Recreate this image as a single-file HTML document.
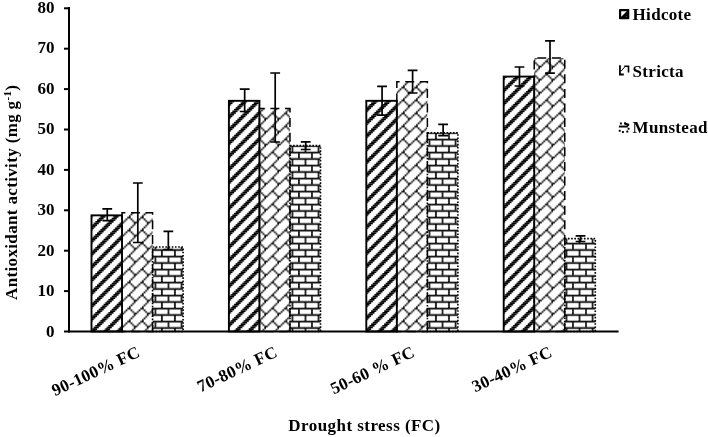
<!DOCTYPE html>
<html><head><meta charset="utf-8"><title>Antioxidant activity</title>
<style>
html,body{margin:0;padding:0;background:#fff;}
svg{display:block;filter:blur(0.35px);}
text{font-family:"Liberation Serif","Times New Roman",serif;font-weight:bold;fill:#000;}
</style></head><body>
<svg width="708" height="437" viewBox="0 0 708 437">
<defs>
<pattern id="pw" patternUnits="userSpaceOnUse" width="13.0500" height="13.0000" patternTransform="translate(5.750,0.000)">
<rect width="13.0500" height="13.0000" fill="#fff"/>
<g fill="#000">
<rect x="-0.050" y="-0.050" width="3.363" height="1.725"/>
<rect x="11.369" y="-0.050" width="1.731" height="1.725"/>
<rect x="-0.050" y="1.575" width="1.731" height="1.725"/>
<rect x="9.738" y="1.575" width="3.363" height="1.725"/>
<rect x="8.106" y="3.200" width="4.994" height="1.725"/>
<rect x="6.475" y="4.825" width="4.994" height="1.725"/>
<rect x="4.844" y="6.450" width="4.994" height="1.725"/>
<rect x="3.213" y="8.075" width="4.994" height="1.725"/>
<rect x="1.581" y="9.700" width="4.994" height="1.725"/>
<rect x="-0.050" y="11.325" width="4.994" height="1.725"/>
</g></pattern>
<pattern id="pd" patternUnits="userSpaceOnUse" width="13.0500" height="13.0000" patternTransform="translate(5.000,2.400)">
<rect width="13.0500" height="13.0000" fill="#fff"/>
<g fill="#000">
<rect x="11.369" y="-0.050" width="1.731" height="1.725"/>
<rect x="9.738" y="1.575" width="1.731" height="1.725"/>
<rect x="8.106" y="3.200" width="1.731" height="1.725"/>
<rect x="6.475" y="4.825" width="1.731" height="1.725"/>
<rect x="4.844" y="6.450" width="3.363" height="1.725"/>
<rect x="3.213" y="8.075" width="1.731" height="1.725"/>
<rect x="8.106" y="8.075" width="1.731" height="1.725"/>
<rect x="1.581" y="9.700" width="1.731" height="1.725"/>
<rect x="9.738" y="9.700" width="1.731" height="1.725"/>
<rect x="-0.050" y="11.325" width="1.731" height="1.725"/>
<rect x="11.369" y="11.325" width="1.731" height="1.725"/>
</g></pattern>
<pattern id="ph" patternUnits="userSpaceOnUse" width="13.0500" height="13.0000" patternTransform="translate(-2.060,8.700)">
<rect width="13.0500" height="13.0000" fill="#fff"/>
<g fill="#000">
<rect x="-0.050" y="-0.050" width="13.150" height="1.725"/>
<rect x="-0.050" y="1.575" width="1.731" height="1.725"/>
<rect x="-0.050" y="3.200" width="1.731" height="1.725"/>
<rect x="-0.050" y="4.825" width="1.731" height="1.725"/>
<rect x="-0.050" y="6.450" width="13.150" height="1.725"/>
<rect x="6.475" y="8.075" width="1.731" height="1.725"/>
<rect x="6.475" y="9.700" width="1.731" height="1.725"/>
<rect x="6.475" y="11.325" width="1.731" height="1.725"/>
</g></pattern>
</defs>
<rect width="708" height="437" fill="#fff"/>
<rect x="152.57" y="247.06" width="30.53" height="84.44" fill="url(#ph)"/>
<rect x="289.97" y="145.66" width="30.53" height="185.84" fill="url(#ph)"/>
<rect x="427.37" y="132.73" width="30.53" height="198.77" fill="url(#ph)"/>
<rect x="564.77" y="238.58" width="30.53" height="92.92" fill="url(#ph)"/>
<rect x="122.03" y="212.72" width="30.53" height="118.78" fill="url(#pd)"/>
<rect x="259.43" y="108.49" width="30.53" height="223.01" fill="url(#pd)"/>
<rect x="396.83" y="81.83" width="30.53" height="249.67" fill="url(#pd)"/>
<rect x="534.23" y="57.99" width="30.53" height="273.51" fill="url(#pd)"/>
<rect x="91.50" y="215.35" width="30.53" height="116.15" fill="url(#pw)"/>
<rect x="228.90" y="100.82" width="30.53" height="230.68" fill="url(#pw)"/>
<rect x="366.30" y="100.82" width="30.53" height="230.68" fill="url(#pw)"/>
<rect x="503.70" y="76.58" width="30.53" height="254.92" fill="url(#pw)"/>
<rect x="152.57" y="247.06" width="30.53" height="84.44" fill="none" stroke="#000" stroke-width="1.6" stroke-dasharray="1.6 1.6"/>
<rect x="289.97" y="145.66" width="30.53" height="185.84" fill="none" stroke="#000" stroke-width="1.6" stroke-dasharray="1.6 1.6"/>
<rect x="427.37" y="132.73" width="30.53" height="198.77" fill="none" stroke="#000" stroke-width="1.6" stroke-dasharray="1.6 1.6"/>
<rect x="564.77" y="238.58" width="30.53" height="92.92" fill="none" stroke="#000" stroke-width="1.6" stroke-dasharray="1.6 1.6"/>
<path d="M152.57 331.50V212.72H122.03V331.50Z" fill="none" stroke="#000" stroke-width="1.5" stroke-dasharray="9 5.6"/>
<path d="M289.97 331.50V108.49H259.43V331.50Z" fill="none" stroke="#000" stroke-width="1.5" stroke-dasharray="9 5.6"/>
<path d="M427.37 331.50V81.83H396.83V331.50Z" fill="none" stroke="#000" stroke-width="1.5" stroke-dasharray="9 5.6"/>
<path d="M564.77 331.50V57.99H534.23V331.50Z" fill="none" stroke="#000" stroke-width="1.5" stroke-dasharray="9 5.6"/>
<rect x="91.50" y="215.35" width="30.53" height="116.15" fill="none" stroke="#000" stroke-width="1.9"/>
<rect x="228.90" y="100.82" width="30.53" height="230.68" fill="none" stroke="#000" stroke-width="1.9"/>
<rect x="366.30" y="100.82" width="30.53" height="230.68" fill="none" stroke="#000" stroke-width="1.9"/>
<rect x="503.70" y="76.58" width="30.53" height="254.92" fill="none" stroke="#000" stroke-width="1.9"/>
<g stroke="#000" stroke-width="1.7" fill="none">
<path d="M102.37 208.80H112.17M107.27 208.80V220.60M102.37 220.60H112.17"/>
<path d="M132.90 183.00H142.70M137.80 183.00V242.50M132.90 242.50H142.70"/>
<path d="M163.43 231.30H173.23M168.33 231.30V249.50M163.43 249.50H173.23"/>
<path d="M239.77 89.20H249.57M244.67 89.20V111.50M239.77 111.50H249.57"/>
<path d="M270.30 73.00H280.10M275.20 73.00V142.00M270.30 142.00H280.10"/>
<path d="M300.83 141.90H310.63M305.73 141.90V149.50M300.83 149.50H310.63"/>
<path d="M377.17 86.30H386.97M382.07 86.30V115.10M377.17 115.10H386.97"/>
<path d="M407.70 70.30H417.50M412.60 70.30V93.00M407.70 93.00H417.50"/>
<path d="M438.23 124.30H448.03M443.13 124.30V135.60M438.23 135.60H448.03"/>
<path d="M514.57 67.00H524.37M519.47 67.00V86.00M514.57 86.00H524.37"/>
<path d="M545.10 40.90H554.90M550.00 40.90V73.20M545.10 73.20H554.90"/>
<path d="M575.63 235.80H585.43M580.53 235.80V241.50M575.63 241.50H585.43"/>
</g>
<g stroke="#000" stroke-width="2" fill="none">
<path d="M69.0 7V332.5"/>
<path d="M64 331.5H618.6"/>
<path d="M64 291.10H69.0"/>
<path d="M64 250.70H69.0"/>
<path d="M64 210.30H69.0"/>
<path d="M64 169.90H69.0"/>
<path d="M64 129.50H69.0"/>
<path d="M64 89.10H69.0"/>
<path d="M64 48.70H69.0"/>
<path d="M64 8.30H69.0"/>
</g>
<text x="54.5" y="336.50" font-size="17" text-anchor="end">0</text>
<text x="54.5" y="296.02" font-size="17" text-anchor="end">10</text>
<text x="54.5" y="255.54" font-size="17" text-anchor="end">20</text>
<text x="54.5" y="215.06" font-size="17" text-anchor="end">30</text>
<text x="54.5" y="174.58" font-size="17" text-anchor="end">40</text>
<text x="54.5" y="134.10" font-size="17" text-anchor="end">50</text>
<text x="54.5" y="93.62" font-size="17" text-anchor="end">60</text>
<text x="54.5" y="53.14" font-size="17" text-anchor="end">70</text>
<text x="54.5" y="12.66" font-size="17" text-anchor="end">80</text>
<text transform="translate(141.20,356) rotate(-25)" font-size="17" letter-spacing="0.3" text-anchor="end">90-100% FC</text>
<text transform="translate(278.60,356) rotate(-25)" font-size="17" letter-spacing="0.3" text-anchor="end">70-80% FC</text>
<text transform="translate(416.00,356) rotate(-25)" font-size="17" letter-spacing="0.3" text-anchor="end">50-60 % FC</text>
<text transform="translate(553.40,356) rotate(-25)" font-size="17" letter-spacing="0.3" text-anchor="end">30-40% FC</text>
<text x="364.5" y="430.5" font-size="17" text-anchor="middle" letter-spacing="0.45">Drought stress (FC)</text>
<text transform="translate(17.3,192.3) rotate(-90)" font-size="17" text-anchor="middle" letter-spacing="0.35">Antioxidant activity (mg g<tspan font-size="11" dy="-6">-1</tspan><tspan dy="6">)</tspan></text>
<text x="632.6" y="19.80" font-size="17" letter-spacing="0.3">Hidcote</text>
<text x="632.6" y="77.30" font-size="17" letter-spacing="0.3">Stricta</text>
<text x="632.6" y="132.70" font-size="17" letter-spacing="0.3">Munstead</text>
<rect x="619" y="9" width="10.3" height="10.3" rx="0.8" fill="#000"/>
<path d="M621.2 11.2H626.8L621.2 16.8Z" fill="#fff"/>
<circle cx="626.3" cy="16.6" r="0.5" fill="#777"/>
<g fill="none" stroke="#000">
<path d="M619.95 65.3V74.5M619 74.5H623.8" stroke-width="1.8"/>
<path d="M624.3 66.2H628.5V72.4" stroke-width="1.6"/>
<path d="M620.9 71.4L625 66.6" stroke-width="1"/>
</g>
<g fill="#000">
<rect x="618.9" y="125.6" width="9" height="1.9"/>
<path d="M624.3 122.4L629.2 123.7V125.6L627.9 126.4L626.6 125.2L624.3 124.4Z"/>
<rect x="619.9" y="122.4" width="2" height="2" rx="0.4"/>
<rect x="624.2" y="122.3" width="2" height="2" rx="0.4"/>
<rect x="627.6" y="127.7" width="2" height="2" rx="0.4"/>
<rect x="618.7" y="129.7" width="2" height="2" rx="0.4"/>
<rect x="621.9" y="130.9" width="2" height="2" rx="0.4"/>
<rect x="626.3" y="130.6" width="2" height="2" rx="0.4"/>
</g>
</svg>
</body></html>
